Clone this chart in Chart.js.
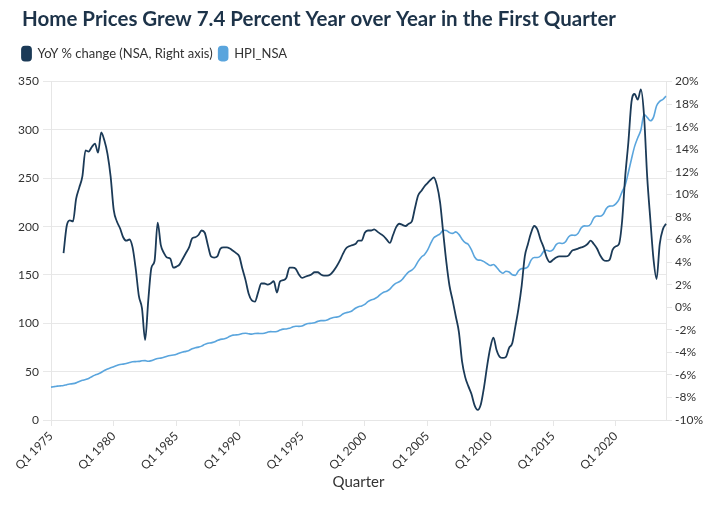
<!DOCTYPE html>
<html>
<head>
<meta charset="utf-8">
<script src="https://cdn.jsdelivr.net/npm/chart.js@4.4.1/dist/chart.umd.min.js"></script>
<style>
  html, body { margin: 0; padding: 0; background: #fff; }
  #wrap { width: 717px; height: 505px; }
</style>
</head>
<body>
<div id="wrap"><canvas id="canvas"></canvas></div>
<script>
// quarters Q1 1975 .. Q1 2024
const startYear = 1975;
const quarterCount = 197;

// HPI_NSA, one value per quarter
const hpi = [
  34.0, 34.5, 35.0, 35.3,
  35.7, 36.5, 37.2, 37.6,
  38.4, 39.8, 41.0, 41.8,
  43.0, 44.8, 46.4, 47.6,
  49.2, 51.2, 52.8, 54.0,
  55.2, 56.4, 57.4, 57.8,
  58.4, 59.4, 60.2, 60.4,
  60.6, 61.2, 61.4, 60.8,
  61.4, 62.6, 63.6, 64.0,
  64.8, 66.0, 66.8, 67.2,
  68.0, 69.4, 70.4, 71.0,
  72.0, 73.6, 74.8, 75.4,
  76.4, 78.2, 79.4, 79.8,
  80.6, 82.2, 83.4, 83.8,
  84.8, 86.6, 87.8, 88.0,
  88.4, 89.4, 89.8, 89.2,
  88.8, 89.4, 89.6, 89.4,
  89.8, 90.8, 91.4, 91.2,
  91.6, 93.0, 94.0, 94.2,
  94.8, 96.2, 97.0, 96.8,
  97.2, 98.8, 99.8, 100.0,
  100.6, 102.0, 102.8, 102.8,
  103.4, 105.0, 106.0, 106.4,
  107.4, 109.6, 111.0, 111.6,
  113.0, 115.6, 117.2, 118.0,
  119.6, 122.4, 124.2, 125.2,
  127.0, 130.0, 132.2, 133.2,
  135.4, 139.0, 141.6, 143.0,
  145.6, 149.8, 153.2, 155.0,
  158.4, 164.0, 168.4, 171.0,
  175.6, 182.6, 188.4, 190.6,
  192.6, 196.2, 196.0, 193.8,
  193.0, 194.6, 192.0, 187.0,
  183.4, 181.6, 176.0, 168.6,
  165.6, 165.2, 163.8, 161.6,
  159.8, 160.8, 158.0, 154.0,
  151.8, 153.8, 153.0, 150.2,
  149.6, 154.4, 156.6, 156.8,
  158.4, 165.4, 168.0, 168.0,
  169.6, 174.4, 175.6, 174.6,
  176.2, 181.4, 183.0, 182.6,
  184.4, 189.6, 191.2, 191.0,
  193.2, 198.8, 200.8, 200.6,
  202.6, 209.0, 211.0, 210.8,
  212.8, 218.8, 221.2, 221.4,
  223.5, 228.0, 236.0, 243.0,
  256.0, 270.0, 283.0, 292.0,
  300.0, 316.0, 313.0, 309.5,
  313.0, 325.0, 329.5, 331.5,
  335.0
];

// YoY % change (NSA), starts Q1 1976
const yoy = [
  null, null, null, null,
  4.8, 7.2, 7.7, 7.6,
  9.6, 10.6, 11.6, 13.9,
  13.8, 14.2, 14.5, 13.7,
  15.5, 14.8, 13.6, 11.6,
  8.6, 7.6, 7.0, 6.2,
  5.9, 6.0, 5.3, 3.4,
  1.0, -0.1, -2.9, 0.6,
  3.5, 4.1, 7.5, 5.5,
  4.8, 4.4, 4.3, 3.5,
  3.6, 3.8, 4.3, 4.8,
  5.3, 6.1, 6.2, 6.4,
  6.8, 6.6, 5.5, 4.5,
  4.4, 4.5, 5.2, 5.3,
  5.3, 5.2, 5.0, 4.8,
  4.5, 3.4, 2.4, 1.2,
  0.6, 0.5, 1.3, 2.1,
  2.1, 2.0, 2.1, 2.3,
  1.3, 2.3, 2.4, 2.6,
  3.5, 3.5, 3.4, 2.9,
  2.6, 2.7, 2.8, 2.9,
  3.1, 3.1, 2.9, 2.8,
  2.8, 2.9, 3.2, 3.6,
  4.1, 4.7, 5.2, 5.4,
  5.5, 5.6, 5.9, 5.9,
  6.6, 6.8, 6.8, 6.9,
  6.7, 6.5, 6.3, 6.0,
  5.7, 6.4, 7.1, 7.4,
  7.3, 7.2, 7.4, 7.6,
  8.8, 9.9, 10.3, 10.7,
  11.0, 11.3, 11.5, 10.8,
  9.3, 6.6, 4.0, 1.9,
  0.6, -0.8, -2.2, -4.8,
  -6.2, -7.0, -7.7, -8.7,
  -9.1, -8.6, -7.1, -5.2,
  -3.6, -2.7, -3.8, -4.4,
  -4.5, -4.4, -3.6, -3.2,
  -1.7, -0.1, 1.9, 4.5,
  5.6, 6.6, 7.2, 6.9,
  6.0, 5.3, 4.4, 4.0,
  4.2, 4.4, 4.5, 4.5,
  4.5, 4.6, 5.0, 5.1,
  5.2, 5.3, 5.4, 5.6,
  5.9, 5.6, 5.2, 4.6,
  4.2, 4.1, 4.2, 5.1,
  5.4, 5.6, 7.6, 11.6,
  14.6, 18.2, 18.9, 18.4,
  19.3, 17.0, 11.6, 7.8,
  4.3, 2.5, 5.6, 6.9,
  7.4
];

const labels = [];
for (let i = 0; i < quarterCount; i++) {
  labels.push('Q' + (i % 4 + 1) + ' ' + (startYear + Math.floor(i / 4)));
}

const font = 'Lato, "Noto Sans", sans-serif';
const textColor = '#333333';

// extra space between the legend and the plot, title nudged right
const layoutTweaks = {
  id: 'layoutTweaks',
  beforeInit(chart) {
    const fit = chart.legend.fit;
    chart.legend.fit = function () {
      fit.call(this);
      this.height += 11;
    };
  },
  afterLayout(chart) {
    if (chart.titleBlock) chart.titleBlock.left = 22;
  }
};

const ctx = document.getElementById('canvas').getContext('2d');
const myChart = new Chart(ctx, {
  type: 'line',
  plugins: [layoutTweaks],
  data: {
    labels: labels,
    datasets: [{
      label: 'YoY % change (NSA, Right axis)',
      data: yoy,
      yAxisID: 'y1',
      borderColor: '#1b3a57',
      backgroundColor: '#1b3a57',
      borderWidth: 1.8,
      pointRadius: 0,
      cubicInterpolationMode: 'monotone'
    }, {
      label: 'HPI_NSA',
      data: hpi,
      yAxisID: 'y',
      borderColor: '#5aa5dd',
      backgroundColor: '#5aa5dd',
      borderWidth: 1.6,
      pointRadius: 0,
      cubicInterpolationMode: 'monotone'
    }]
  },
  options: {
    responsive: true,
    maintainAspectRatio: false,
    animation: false,
    layout: { padding: { top: 0, left: 16, right: 0, bottom: 0 } },
    plugins: {
      title: {
        display: true,
        text: 'Home Prices Grew 7.4 Percent Year over Year in the First Quarter',
        align: 'start',
        color: '#1d3349',
        font: { family: font, size: 20.5, weight: 'bold' },
        padding: { top: 7, bottom: 9 }
      },
      legend: {
        display: true,
        align: 'start',
        labels: {
          color: textColor,
          font: { family: font, size: 13 },
          boxWidth: 9,
          boxHeight: 14,
          useBorderRadius: true,
          borderRadius: 3,
          padding: 6
        }
      },
      tooltip: { enabled: false }
    },
    scales: {
      x: {
        grid: { drawOnChartArea: false, color: '#e6e6e6', tickLength: 6 },
        border: { color: '#e6e6e6' },
        ticks: {
          autoSkip: false,
          maxRotation: 45,
          minRotation: 45,
          color: textColor,
          font: { family: font, size: 12 },
          callback: function (v, i) { return i % 20 === 0 ? labels[i] : null; }
        },
        title: {
          display: true,
          text: 'Quarter',
          color: textColor,
          font: { family: font, size: 15 },
          padding: { top: 4, bottom: 14 }
        },
        afterFit: function (scale) { scale.height = 85; }
      },
      y: {
        position: 'left',
        min: 0,
        max: 350,
        ticks: {
          stepSize: 50,
          color: textColor,
          font: { family: font, size: 12 },
          padding: 4
        },
        grid: { color: '#e8e8e8', tickLength: 8 },
        border: { color: '#e6e6e6' },
        afterFit: function (scale) { scale.width = 35; }
      },
      y1: {
        position: 'right',
        min: -10,
        max: 20,
        ticks: {
          stepSize: 2,
          color: textColor,
          font: { family: font, size: 12 },
          padding: 3,
          callback: function (v) { return v + '%'; }
        },
        grid: { drawOnChartArea: false, color: '#e6e6e6', tickLength: 6 },
        border: { color: '#e6e6e6' },
        afterFit: function (scale) { scale.width = 51; }
      }
    }
  }
});
</script>
</body>
</html>
